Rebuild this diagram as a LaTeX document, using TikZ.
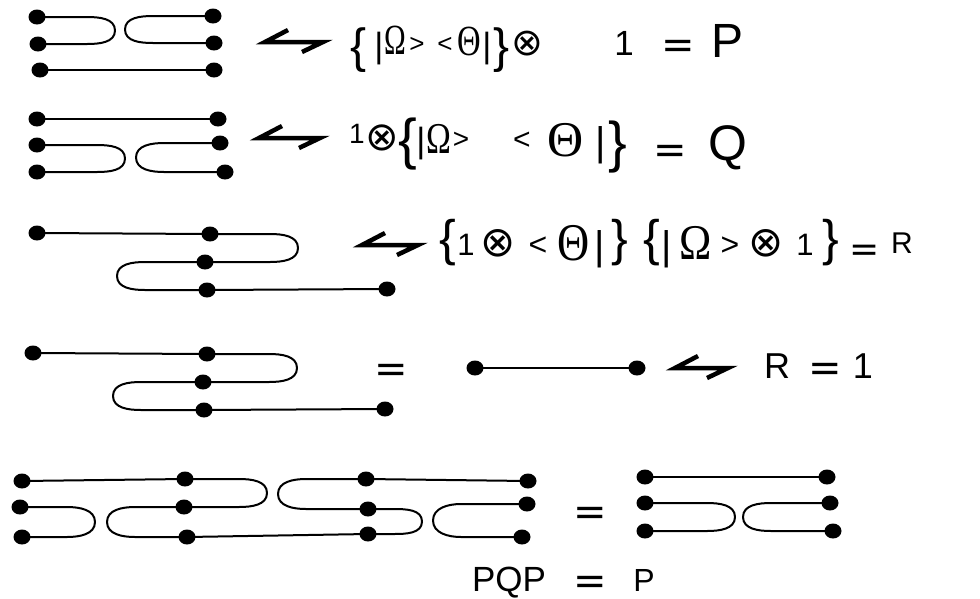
\documentclass[tikz,border=0pt]{standalone}
\usepackage{fontspec}
\setmainfont{Liberation Sans}
\newfontfamily\serifont{Liberation Serif}
\newfontfamily\dvfont{DejaVu Sans}
\usetikzlibrary{shapes.geometric}
\newcommand\fsz[1]{\fontsize{#1}{#1}\selectfont}
\newcommand\sx[2]{\scalebox{#1}[1]{#2}}
\newcommand\lr{28}
\newcommand\dotat[3]{\node[dotn] (#1) at (#2,#3) {};\expandafter\def\csname py#1\endcsname{#3}}
\newcommand\rloop[3]{\draw[wire] (#1.center) -- ({#3-\lr},\csname py#1\endcsname) to[out=0,in=90] (#3,{(\csname py#1\endcsname+\csname py#2\endcsname)/2}) to[out=-90,in=0] ({#3-\lr},\csname py#2\endcsname) -- (#2.center);}
\newcommand\lloop[3]{\draw[wire] (#1.center) -- ({#3+\lr},\csname py#1\endcsname) to[out=180,in=90] (#3,{(\csname py#1\endcsname+\csname py#2\endcsname)/2}) to[out=-90,in=180] ({#3+\lr},\csname py#2\endcsname) -- (#2.center);}
\newcommand\harpoon[3]{\draw[harp] ({#1+30},{#3-12}) -- ({#1+7},#3) -- ({#2-7},#3) -- ({#2-28},{#3+10});}
\begin{document}
\begin{tikzpicture}[x=1pt,y=-1pt,
  dotn/.style={ellipse,fill=black,draw=none,minimum width=17pt,minimum height=15pt,inner sep=0pt},
  wire/.style={line width=2pt,line join=round},
  harp/.style={line width=4.5pt,line join=miter,line cap=butt},
  g/.style={inner sep=0pt,outer sep=0pt,anchor=base}]
\useasboundingbox (0,0) rectangle (980,598);
% ---------- row 1 ----------
\dotat{a1}{37}{17}\dotat{a2}{38}{44}\dotat{a3}{40}{70}
\dotat{b1}{213}{16}\dotat{b2}{214}{43}\dotat{b3}{214}{70}
\rloop{a1}{a2}{115}
\lloop{b1}{b2}{125}
\draw[wire] (a3.center) -- (b3.center);
\harpoon{258}{330}{42}
\node[g,font=\fsz{48}] (r1lb) at (359,62) {\{};
\node[g,font=\fsz{35}] (r1v1) at (379,57) {|};
\node[g,font=\serifont\fsz{43}] (r1om) at (395,54) {\sx{0.68}{Ω}};
\node[g,font=\fsz{26}] (r1gt) at (417,52) {>};
\node[g,font=\fsz{26}] (r1lt) at (445,52) {<};
\node[g,font=\serifont\fsz{43}] (r1th) at (469,55) {\sx{0.76}{Θ}};
\node[g,font=\fsz{35}] (r1v2) at (487,57) {|};
\node[g,font=\fsz{48}] (r1rb) at (502,62) {\}};
\node[g,font=\dvfont\fsz{38}] (r1ot) at (527,55) {⊗};
\node[g,font=\fsz{35}] (r1one) at (624,55) {1};
\node[g,font=\dvfont\fsz{40}] (r1eq) at (678,58) {=};
\node[g,font=\fsz{48}] (r1P) at (727,57) {P};
% ---------- row 2 ----------
\dotat{c1}{37}{119}\dotat{c2}{37}{145}\dotat{c3}{37}{172}
\dotat{d1}{218}{119}\dotat{d2}{220}{143}\dotat{d3}{225}{172}
\draw[wire] (c1.center) -- (d1.center);
\rloop{c2}{c3}{125}
\lloop{d2}{d3}{136}
\harpoon{252}{327}{138}
\node[g,font=\fsz{28}] (r2one) at (357,143) {1};
\node[g,font=\dvfont\fsz{40}] (r2ot) at (382,150) {⊗};
\node[g,font=\fsz{56}] (r2lb) at (408,158) {\{};
\node[g,font=\fsz{35}] (r2v1) at (421,152) {|};
\node[g,font=\serifont\fsz{44}] (r2om) at (439,153) {\sx{0.76}{Ω}};
\node[g,font=\fsz{28}] (r2gt) at (461,148) {>};
\node[g,font=\fsz{30}] (r2lt) at (522,149) {<};
\node[g,font=\serifont\fsz{50}] (r2th) at (566,156) {Θ};
\node[g,font=\fsz{40}] (r2v2) at (601,155) {|};
\node[g,font=\fsz{56}] (r2rb) at (618,161) {\}};
\node[g,font=\dvfont\fsz{40}] (r2eq) at (670,163) {=};
\node[g,font=\fsz{50}] (r2Q) at (728,160) {Q};
% ---------- row 3 ----------
\dotat{e1}{37}{233}\dotat{e2}{210}{234}\dotat{e3}{205}{262}\dotat{e4}{207}{290}\dotat{e5}{387}{289}
\draw[wire] (e1.center) -- (e2.center);
\rloop{e2}{e3}{298}
\lloop{e3}{e4}{117}
\draw[wire] (e4.center) -- (e5.center);
\harpoon{355}{425}{245}
\node[g,font=\fsz{50}] (r3lb) at (448,255) {\{};
\node[g,font=\fsz{31}] (r3one) at (466,255) {1};
\node[g,font=\dvfont\fsz{42}] (r3ot) at (498,256) {⊗};
\node[g,font=\fsz{32}] (r3lt) at (538,255) {<};
\node[g,font=\serifont\fsz{53}] (r3th) at (574,260) {\sx{0.84}{Θ}};
\node[g,font=\fsz{40}] (r3v1) at (600,259) {|};
\node[g,font=\fsz{50}] (r3rb) at (620,255) {\}};
\node[g,font=\fsz{50}] (r3lb2) at (652,255) {\{};
\node[g,font=\fsz{40}] (r3v2) at (667,259) {|};
\node[g,font=\serifont\fsz{50}] (r3om) at (696,259) {\sx{0.87}{Ω}};
\node[g,font=\fsz{32}] (r3gt) at (730,255) {>};
\node[g,font=\dvfont\fsz{42}] (r3ot2) at (766,256) {⊗};
\node[g,font=\fsz{31}] (r3one2) at (805,255) {1};
\node[g,font=\fsz{50}] (r3rb2) at (831,255) {\}};
\node[g,font=\dvfont\fsz{36}] (r3eq) at (865,261) {=};
\node[g,font=\fsz{30}] (r3R) at (902,253) {R};
% ---------- row 4 ----------
\dotat{f1}{33}{353}\dotat{f2}{207}{354}\dotat{f3}{203}{382}\dotat{f4}{204}{410}\dotat{f5}{385}{409}
\draw[wire] (f1.center) -- (f2.center);
\rloop{f2}{f3}{297}
\lloop{f3}{f4}{113}
\draw[wire] (f4.center) -- (f5.center);
\node[g,font=\dvfont\fsz{40}] (r4eq) at (391,382) {=};
\dotat{h1}{475}{368}\dotat{h2}{637}{368}
\draw[wire] (h1.center) -- (h2.center);
\harpoon{668}{735}{368}
\node[g,font=\fsz{36}] (r4R) at (777,378) {R};
\node[g,font=\dvfont\fsz{40}] (r4eq2) at (825,381) {=};
\node[g,font=\fsz{36}] (r4one) at (863,378) {1};
% ---------- row 5 ----------
\dotat{k1}{22}{481}\dotat{k2}{20}{507}\dotat{k3}{22}{537}
\dotat{l1}{185}{479}\dotat{l2}{184}{507}\dotat{l3}{187}{537}
\dotat{m1}{366}{479}\dotat{m2}{368}{509}\dotat{m3}{368}{534}
\dotat{n1}{528}{481}\dotat{n2}{527}{504}\dotat{n3}{522}{537}
\draw[wire] (k1.center) -- (l1.center);
\rloop{k2}{k3}{95}
\lloop{l2}{l3}{107}
\rloop{l1}{l2}{267}
\draw[wire] (l3.center) -- (m3.center);
\lloop{m1}{m2}{278}
\rloop{m2}{m3}{422}
\draw[wire] (m1.center) -- (n1.center);
\lloop{n2}{n3}{433}
\node[g,font=\dvfont\fsz{40}] (r5eq) at (590,525) {=};
\dotat{p1}{645}{477}\dotat{p2}{645}{503}\dotat{p3}{645}{531}
\dotat{q1}{827}{477}\dotat{q2}{830}{503}\dotat{q3}{833}{531}
\draw[wire] (p1.center) -- (q1.center);
\rloop{p2}{p3}{735}
\lloop{q2}{q3}{743}
\node[g,font=\fsz{35}] (r5PQP) at (509,591) {PQP};
\node[g,font=\dvfont\fsz{40}] (r5eq2) at (590,594) {=};
\node[g,font=\fsz{32}] (r5P) at (644,591) {P};
\end{tikzpicture}
\end{document}
